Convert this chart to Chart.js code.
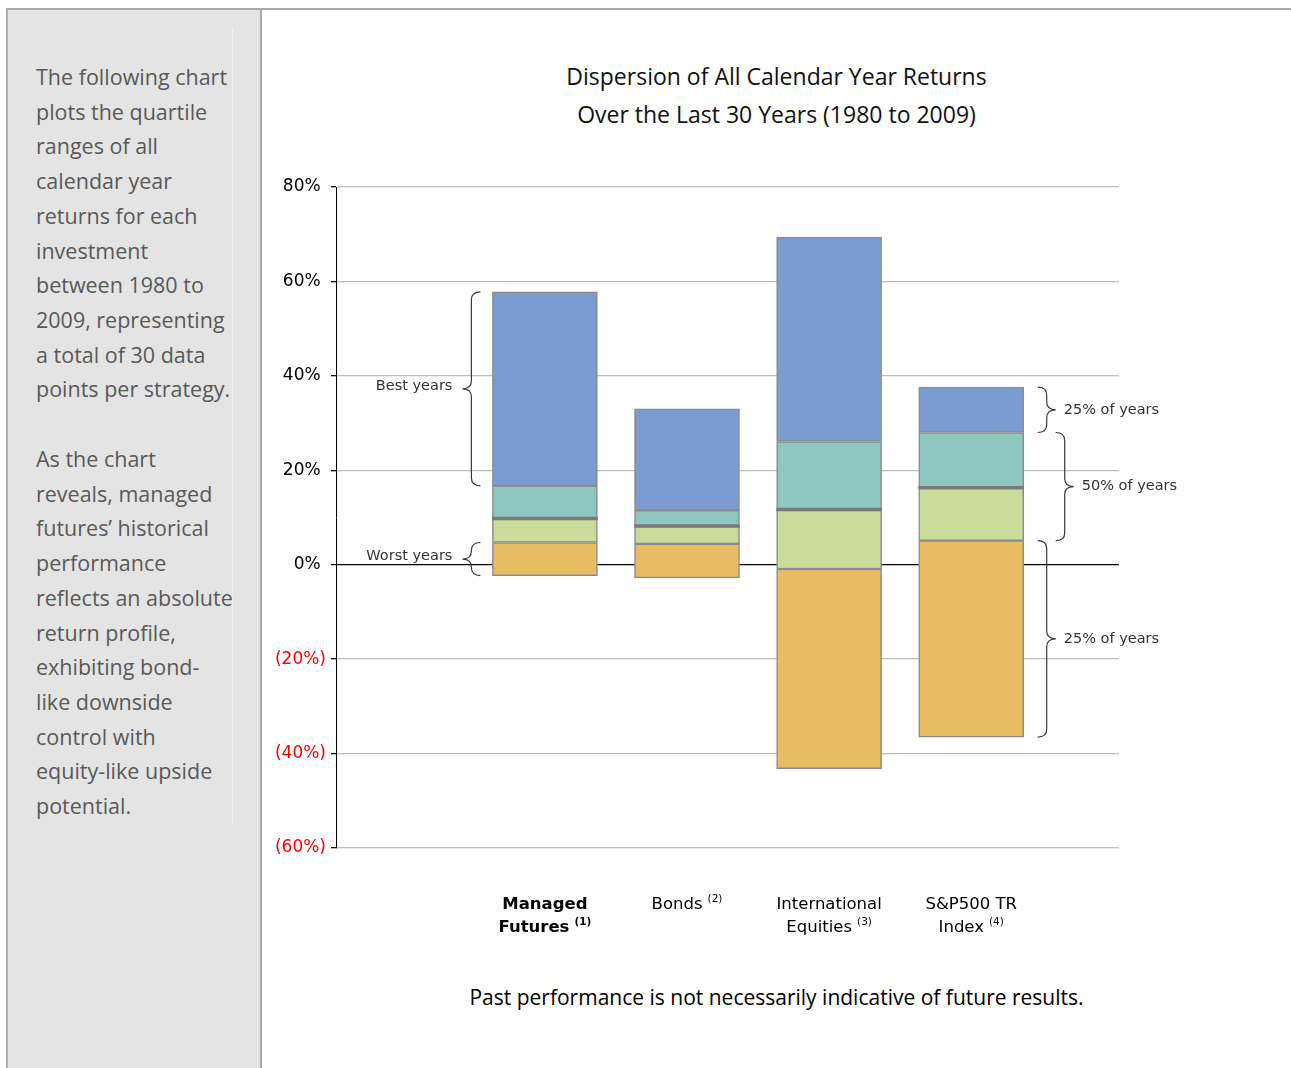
<!DOCTYPE html>
<html>
<head>
<meta charset="utf-8">
<script src="https://cdn.jsdelivr.net/npm/chart.js@4"></script>
<style>
  html, body { margin: 0; padding: 0; background: #fff; }
  body { width: 1291px; height: 1068px; position: relative; overflow: hidden; }
  #topline { position: absolute; left: 6px; top: 8px; width: 1285px; height: 2px; background: #aaaaaa; }
  #panel {
    position: absolute; left: 6px; top: 10px; width: 252px; height: 1058px;
    background: #e4e4e4; border-left: 2px solid #b0b0b0; border-right: 2px solid #aaaaaa;
  }
  #panel .inner { position: absolute; left: 224px; top: 18px; width: 1px; height: 797px; background: #efefef; }
  #panel p {
    position: absolute; left: 28px; margin: 0;
    font-family: "Open Sans", sans-serif; font-size: 21.5px; line-height: 34.7px; color: #595959;
  }
  #title {
    position: absolute; left: 262px; width: 1029px; top: 57px; text-align: center;
    font-family: "Open Sans", sans-serif; font-size: 23px; line-height: 38px; color: #111;
  }
  #footer {
    position: absolute; left: 262px; width: 1029px; top: 983px; text-align: center;
    font-family: "Open Sans", sans-serif; font-size: 21px; color: #000;
  }
  #wrap { position: absolute; left: 262px; top: 0; width: 1029px; height: 1068px; }
</style>
</head>
<body>
<div id="topline"></div>
<div id="panel">
  <div class="inner"></div>
  <p style="top:50px">The following chart<br>plots the quartile<br>ranges of all<br>calendar year<br>returns for each<br>investment<br>between 1980 to<br>2009, representing<br>a total of 30 data<br>points per strategy.</p>
  <p style="top:432px">As the chart<br>reveals, managed<br>futures’ historical<br>performance<br>reflects an absolute<br>return profile,<br>exhibiting bond-<br>like downside<br>control with<br>equity-like upside<br>potential.</p>
</div>
<div id="title">Dispersion of All Calendar Year Returns<br>Over the Last 30 Years (1980 to 2009)</div>
<div id="footer">Past performance is not necessarily indicative of future results.</div>
<div id="wrap"><canvas id="grafico"></canvas></div>

<script>
// categorias e notas
const categorias = ["Managed Futures", "Bonds", "International Equities", "S&P500 TR Index"];
const rotulos = [["Managed", "Futures"], ["Bonds"], ["International", "Equities"], ["S&P500 TR", "Index"]];
const notas = ["(1)", "(2)", "(3)", "(4)"];

// quartis dos retornos anuais (%)
const minimo  = [-2.3, -2.8, -43.2, -36.5];
const q1      = [4.7, 4.4, -0.9, 5.1];
const mediana = [9.8, 8.2, 11.7, 16.3];
const q3      = [16.7, 11.5, 26.1, 28.0];
const maximo  = [57.8, 33.0, 69.4, 37.6];

const ticksY = [80, 60, 40, 20, 0, -20, -40, -60];

const cores = {
  azul: "#7b9cd0",
  verde_agua: "#8ec6c0",
  verde: "#c9dc99",
  laranja: "#e9bc64",
  borda: "#8c8c8c",
  mediana: "#7a7a7a"
};

function faixa(de, ate) {
  return categorias.map((c, i) => ({ x: i + 1, y: [de[i], ate[i]] }));
}

function segmento(label, dados, cor) {
  return {
    label: label,
    data: dados,
    backgroundColor: cor,
    borderColor: cores.borda,
    borderWidth: 1.5,
    borderSkipped: false,
    barThickness: 105,
    grouped: false
  };
}

// chaves e anotações
const chaves = [
  { cat: 0, lado: -1, de: maximo, ate: q3, texto: "Best years", afast: 12 },
  { cat: 0, lado: -1, de: q1, ate: minimo, texto: "Worst years", afast: 12 },
  { cat: 3, lado: 1, de: maximo, ate: q3, texto: "25% of years", afast: 14 },
  { cat: 3, lado: 1, de: q3, ate: q1, texto: "50% of years", afast: 32 },
  { cat: 3, lado: 1, de: q1, ate: minimo, texto: "25% of years", afast: 14 }
];

function desenhaChave(ctx, x0, y1, y2, dir, w) {
  const meio = (y1 + y2) / 2;
  const xv = x0 + dir * w * 0.5;
  const xp = x0 + dir * w;
  const r = Math.min(8, (y2 - y1) / 4);
  ctx.beginPath();
  ctx.moveTo(x0, y1);
  ctx.quadraticCurveTo(xv, y1, xv, y1 + r);
  ctx.lineTo(xv, meio - r);
  ctx.quadraticCurveTo(xv, meio, xp, meio);
  ctx.quadraticCurveTo(xv, meio, xv, meio + r);
  ctx.lineTo(xv, y2 - r);
  ctx.quadraticCurveTo(xv, y2, x0, y2);
  ctx.stroke();
}

const pluginAnotacoes = {
  id: "anotacoes",
  afterDatasetsDraw(chart) {
    const ctx = chart.ctx;
    const sx = chart.scales.x, sy = chart.scales.y;
    ctx.save();
    ctx.strokeStyle = "#3a3a3a";
    ctx.lineWidth = 1.2;
    ctx.fillStyle = "#333";
    ctx.font = "14.5px 'DejaVu Sans'";
    ctx.textBaseline = "middle";
    chaves.forEach(c => {
      const xc = sx.getPixelForValue(c.cat + 1);
      const borda = xc + c.lado * 52.5;
      const x0 = borda + c.lado * c.afast;
      const y1 = sy.getPixelForValue(c.de[c.cat]);
      const y2 = sy.getPixelForValue(c.ate[c.cat]);
      desenhaChave(ctx, x0, y1, y2, c.lado, 18);
      const meio = (y1 + y2) / 2;
      if (c.lado < 0) {
        ctx.textAlign = "right";
        ctx.fillText(c.texto, x0 - 28, meio - 3);
      } else {
        ctx.textAlign = "left";
        ctx.fillText(c.texto, x0 + 26, meio);
      }
    });

    // rótulos das categorias com notas sobrescritas
    ctx.fillStyle = "#000";
    ctx.textAlign = "left";
    ctx.textBaseline = "alphabetic";
    rotulos.forEach((linhas, i) => {
      const xc = sx.getPixelForValue(i + 1);
      const peso = i === 0 ? "bold " : "";
      linhas.forEach((txt, j) => {
        const y = chart.chartArea.bottom + 61 + j * 23;
        const ultima = j === linhas.length - 1;
        ctx.font = peso + "16.5px 'DejaVu Sans'";
        const w1 = ctx.measureText(txt).width;
        let w2 = 0;
        if (ultima) {
          ctx.font = peso + "10.5px 'DejaVu Sans'";
          w2 = ctx.measureText(notas[i]).width + 5;
        }
        const xi = xc - (w1 + w2) / 2;
        ctx.font = peso + "16.5px 'DejaVu Sans'";
        ctx.fillText(txt, xi, y);
        if (ultima) {
          ctx.font = peso + "10.5px 'DejaVu Sans'";
          ctx.fillText(notas[i], xi + w1 + 5, y - 7);
        }
      });
    });
    ctx.restore();
  }
};

const ctxGrafico = document.getElementById("grafico").getContext("2d");
new Chart(ctxGrafico, {
  type: "bar",
  data: {
    datasets: [
      {
        label: "Mediana",
        data: categorias.map((c, i) => ({ x: i + 1, y: [mediana[i] - 0.3, mediana[i] + 0.3] })),
        backgroundColor: cores.mediana,
        borderWidth: 0,
        barThickness: 105,
        grouped: false,
        order: -1
      },
      segmento("Mínimo–Q1", faixa(minimo, q1), cores.laranja),
      segmento("Q1–Mediana", faixa(q1, mediana), cores.verde),
      segmento("Mediana–Q3", faixa(mediana, q3), cores.verde_agua),
      segmento("Q3–Máximo", faixa(q3, maximo), cores.azul)
    ]
  },
  options: {
    responsive: true,
    maintainAspectRatio: false,
    animation: false,
    layout: { padding: { left: 0, right: 172, top: 187, bottom: 220 } },
    plugins: {
      legend: { display: false },
      tooltip: { enabled: false },
      title: { display: false }
    },
    scales: {
      x: {
        type: "linear",
        display: false,
        offset: false,
        min: -0.47,
        max: 5.04
      },
      y: {
        min: -60,
        max: 80,
        afterFit: (s) => { s.width = 74; },
        afterBuildTicks: (s) => { s.ticks = ticksY.map(v => ({ value: v })); },
        border: { display: true, color: "#000", width: 1 },
        grid: {
          color: (c) => c.tick && c.tick.value === 0 ? "#000" : "#bdbdbd",
          lineWidth: (c) => c.tick && c.tick.value === 0 ? 1.2 : 1.3,
          tickColor: "#000",
          tickLength: 5
        },
        ticks: {
          padding: 5,
          font: { family: "DejaVu Sans", size: 17 },
          color: (c) => c.tick.value < 0 ? "#ff0000" : "#000",
          callback: (v) => v < 0 ? "(" + Math.abs(v) + "%)" : v + "%\u2008"
        }
      }
    }
  },
  plugins: [pluginAnotacoes]
});
</script>
</body>
</html>
